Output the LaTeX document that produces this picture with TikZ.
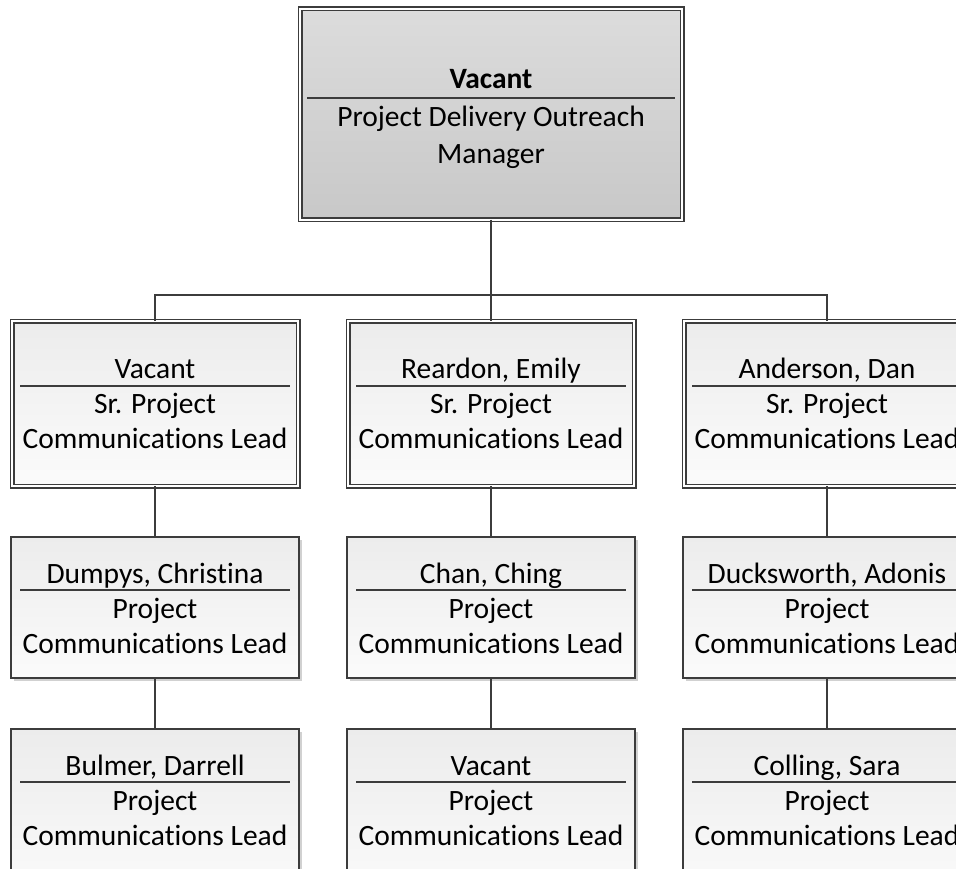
\documentclass[tikz,border=0pt]{standalone}
\usepackage{fontspec}
\setmainfont{Carlito}[Ligatures={NoCommon}]
\usetikzlibrary{shadows}
\definecolor{ln}{HTML}{3C3C3C}
\definecolor{topA}{HTML}{DCDCDC}
\definecolor{topB}{HTML}{C8C8C8}
\definecolor{boxA}{HTML}{ECECEC}
\definecolor{boxB}{HTML}{FBFBFB}
\tikzset{
  basebox/.style={rectangle, inner sep=0pt, outer sep=0pt, draw=ln,
    drop shadow={shadow xshift=2.5pt, shadow yshift=-2.5pt, fill=black, opacity=0.18}},
  dblbox/.style={basebox, line width=1.6pt, double=white, double distance=1.8pt},
  sglbox/.style={basebox, line width=1.8pt},
  headbox/.style={dblbox, top color=topA, bottom color=topB, minimum width=382pt, minimum height=211pt},
  lvtwo/.style={dblbox, top color=boxA, bottom color=boxB, minimum width=286pt, minimum height=165pt},
  lvthree/.style={sglbox, top color=boxA, bottom color=boxB, minimum width=288pt, minimum height=141pt},
  lvfour/.style={sglbox, top color=boxA, bottom color=boxB, minimum width=288pt, minimum height=171pt},
  txt/.style={anchor=base, inner sep=0pt, outer sep=0pt, font=\fontsize{29.5pt}{36pt}\selectfont, text=black},
  divider/.style={draw=ln, line width=1.5pt},
  conn/.style={draw=ln, line width=2pt},
}
\begin{document}
\begin{tikzpicture}[x=1pt, y=-1pt]
\path[use as bounding box] (0,0) rectangle (956,869);
\clip (0,0) rectangle (956,869);
% top box
\node[headbox] (top) at (491,114.5) {};
\draw[divider] (307,98) -- (675,98);
\node[txt, font=\fontsize{29.5pt}{36pt}\selectfont\bfseries] (topname) at (491,89) {Vacant};
\node[txt] (toptitA) at (491,127) {Project Delivery Outreach};
\node[txt] (toptitB) at (491,164) {Manager};
% level 2
\foreach \nm/\cx/\who in {a/155/Vacant, b/491/{Reardon, Emily}, c/827/{Anderson, Dan}}{
  \node[lvtwo] (two\nm) at (\cx,403.5) {};
  \draw[divider] (\cx-135,386) -- (\cx+135,386);
  \node[txt] (two\nm name) at (\cx,378) {\who};
  \node[txt] (two\nm tA) at (\cx,413) {Sr. Project};
  \node[txt] (two\nm tB) at (\cx,448) {Communications Lead};
}
% level 3
\foreach \nm/\cx/\who in {a/155/{Dumpys, Christina}, b/491/{Chan, Ching}, c/827/{Ducksworth, Adonis}}{
  \node[lvthree] (three\nm) at (\cx,607.5) {};
  \draw[divider] (\cx-135,590) -- (\cx+135,590);
  \node[txt] (three\nm name) at (\cx,583) {\who};
  \node[txt] (three\nm tA) at (\cx,618) {Project};
  \node[txt] (three\nm tB) at (\cx,653) {Communications Lead};
}
% level 4
\foreach \nm/\cx/\who in {a/155/{Bulmer, Darrell}, b/491/Vacant, c/827/{Colling, Sara}}{
  \node[lvfour] (four\nm) at (\cx,814.5) {};
  \draw[divider] (\cx-135,782) -- (\cx+135,782);
  \node[txt] (four\nm name) at (\cx,775) {\who};
  \node[txt] (four\nm tA) at (\cx,810) {Project};
  \node[txt] (four\nm tB) at (\cx,845) {Communications Lead};
}
% connectors
\coordinate (bus) at (0,295);
\draw[conn] (top.south) -- (twob.north);
\draw[conn] (twoa.north) -- (twoa.north |- bus) -- (twoc.north |- bus) -- (twoc.north);
\foreach \nm in {a,b,c}{
  \draw[conn] (two\nm.south) -- (three\nm.north);
  \draw[conn] (three\nm.south) -- (four\nm.north);
}
\end{tikzpicture}
\end{document}
